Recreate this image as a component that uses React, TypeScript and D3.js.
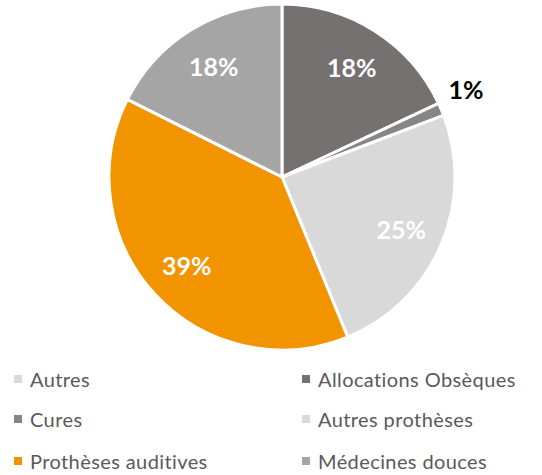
import React from 'react';
import * as d3 from 'd3';

const categories = ['Autres', 'Allocations Obsèques', 'Cures', 'Autres prothèses', 'Prothèses auditives', 'Médecines douces'];
const values = [0, 18.0, 1.2, 24.6, 38.6, 17.6];
const colors = ['#d9d9d9', '#767171', '#868686', '#d9d9d9', '#f29400', '#a5a5a5'];
const labelColors = ['#ffffff', '#ffffff', '#000000', '#ffffff', '#ffffff', '#ffffff'];

const W = 542;
const H = 475;
const cx = 282;
const cy = 177;
const R = 173;

export default function App() {
  const total = d3.sum(values);
  const pie = d3.pie<number>().sort(null).value(d => d)(values);
  const arc = d3.arc<d3.PieArcDatum<number>>().innerRadius(0).outerRadius(R);
  const fmt = (v: number) => Math.round((v / total) * 100) + '%';

  const legendRows = d3.scaleOrdinal<number, number>().domain([0, 1, 2]).range([379, 419, 461]);
  const legendCols = d3.scaleOrdinal<number, number>().domain([0, 1]).range([14, 302]);

  return (
    <svg width={W} height={H} style={{ position: 'absolute', left: 0, top: 0, fontFamily: 'Lato, sans-serif' }}>
      <g transform={`translate(${cx},${cy})`}>
        {pie.map((p, i) => (
          <path key={i} d={arc(p) || ''} fill={colors[i]} stroke="#fff" strokeWidth={3} strokeLinejoin="round" />
        ))}
        {pie.map((p, i) => {
          if (values[i] === 0) return null;
          const mid = (p.startAngle + p.endAngle) / 2;
          const outside = values[i] / total < 0.05;
          const r = outside ? 200 : 130;
          const x = Math.sin(mid) * r;
          const y = -Math.cos(mid) * r - (outside ? 10 : 0);
          return (
            <text key={'l' + i} x={x} y={y} textAnchor="middle" dominantBaseline="central"
              fill={labelColors[i]} fontSize={25} fontWeight="bold">
              {fmt(values[i])}
            </text>
          );
        })}
      </g>
      {categories.map((c, i) => {
        const col = i % 2;
        const row = Math.floor(i / 2);
        const x = legendCols(col);
        const y = legendRows(row);
        return (
          <g key={'lg' + i}>
            <rect x={x} y={y - 4} width={8} height={8} fill={colors[i]} />
            <text x={x + 16} y={y} dominantBaseline="central" fill="#595959" fontSize={20} letterSpacing={0.4}>{c}</text>
          </g>
        );
      })}
    </svg>
  );
}
